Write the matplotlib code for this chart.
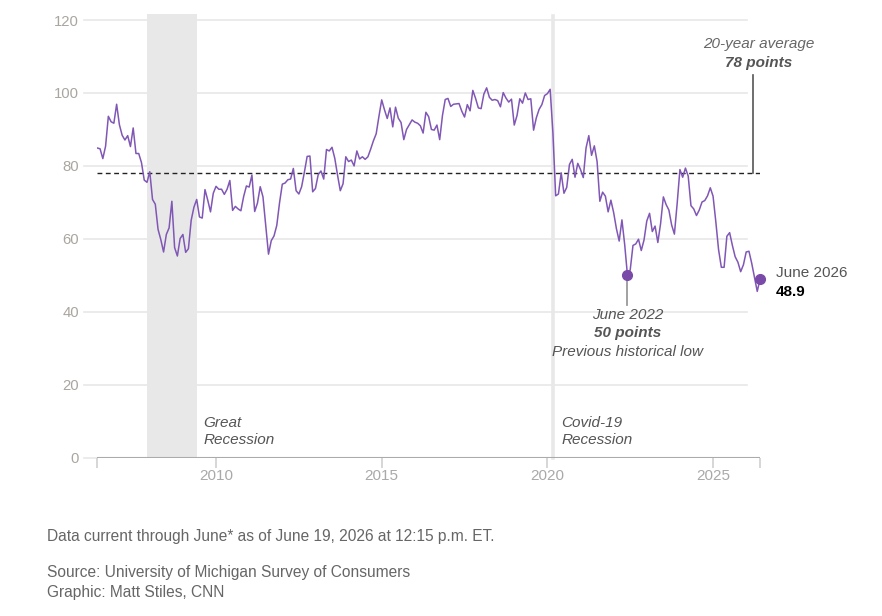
import matplotlib
matplotlib.use('Agg')
import matplotlib.pyplot as plt
import matplotlib.transforms as mtransforms
import numpy as np

plt.rcParams['font.family'] = ['Liberation Sans', 'DejaVu Sans']

# University of Michigan consumer sentiment, monthly, June 2006 - June 2026
start_year, start_month = 2006, 6
sentiment = [
    84.9, 84.7, 82.0, 85.4, 93.6, 92.1, 91.7,
    96.9, 91.3, 88.4, 87.1, 88.3, 85.3, 90.4, 83.4, 83.4, 80.9, 76.1, 75.5,
    78.4, 70.8, 69.5, 62.6, 59.8, 56.4, 61.2, 63.0, 70.3, 57.6, 55.3, 60.1,
    61.2, 56.3, 57.3, 65.1, 68.7, 70.8, 66.0, 65.7, 73.5, 70.6, 67.4, 72.5,
    74.4, 73.6, 73.6, 72.2, 73.6, 76.0, 67.8, 68.9, 68.2, 67.7, 71.6, 74.5,
    74.2, 77.5, 67.5, 69.8, 74.3, 71.5, 63.7, 55.8, 59.5, 60.8, 63.7, 69.9,
    75.0, 75.3, 76.2, 76.4, 79.3, 73.2, 72.3, 74.3, 78.3, 82.6, 82.7, 72.9,
    73.8, 77.6, 78.6, 76.4, 84.5, 84.1, 85.1, 82.1, 77.5, 73.2, 75.1, 82.5,
    81.2, 81.6, 80.0, 84.1, 81.9, 82.5, 81.8, 82.5, 84.6, 86.9, 88.8, 93.6,
    98.1, 95.4, 93.0, 95.9, 90.7, 96.1, 93.1, 91.9, 87.2, 90.0, 91.3, 92.6,
    92.0, 91.7, 91.0, 89.0, 94.7, 93.5, 90.0, 89.8, 91.2, 87.2, 93.8, 98.2,
    98.5, 96.3, 96.9, 97.0, 97.1, 95.0, 93.4, 96.8, 95.1, 100.7, 98.5, 95.9,
    95.7, 99.7, 101.4, 98.8, 98.0, 98.2, 97.9, 96.2, 100.1, 98.6, 97.5, 98.3,
    91.2, 93.8, 98.4, 97.2, 100.0, 98.2, 98.4, 89.8, 93.2, 95.5, 96.8, 99.3,
    99.8, 101.0, 89.1, 71.8, 72.3, 78.1, 72.5, 74.1, 80.4, 81.8, 76.9, 80.7,
    79.0, 76.8, 84.9, 88.3, 82.9, 85.5, 81.2, 70.3, 72.8, 71.7, 67.4, 70.6,
    67.2, 62.8, 59.4, 65.2, 58.4, 50.0, 51.5, 58.2, 58.6, 59.9, 56.8, 59.7,
    64.9, 67.0, 62.0, 63.5, 59.0, 64.2, 71.5, 69.4, 67.9, 63.8, 61.3, 69.7,
    79.0, 76.9, 79.4, 77.2, 69.1, 68.2, 66.4, 67.9, 70.1, 70.5, 71.8, 74.0,
    71.7, 64.7, 57.0, 52.2, 52.2, 60.7, 61.7, 58.2, 55.1, 53.6, 51.0, 52.9,
    56.4, 56.6, 53.3, 49.5, 45.6, 48.9,
]
average_20yr = 78
low_date = (2022, 6)
low_value = 50.0
great_recession = (2007 + 11 / 12, 2009 + 5 / 12)
covid_recession = 2020 + 2.2 / 12
year_ticks = [2010, 2015, 2020, 2025]
y_ticks = [0, 20, 40, 60, 80, 100, 120]

months = np.arange(len(sentiment))
dates = start_year + (start_month - 1) / 12 + months / 12
values = np.array(sentiment)
x_min, x_max = dates[0], dates[-1]

LINE = '#8057b5'
DOT = '#7a4aa9'
GRID = '#e8e8e8'
AXIS = '#ababab'

fig = plt.figure(figsize=(8.82, 6.16), dpi=100)
ax = fig.add_axes([97.3 / 882, 1 - 457.7 / 616, (760 - 97.3) / 882, (457.7 - 20) / 616])
ax.set_xlim(x_min, x_max)
ax.set_ylim(0, 120)
for s in ax.spines.values():
    s.set_visible(False)

# gridlines reach a bit past the plot on the left
trans = mtransforms.blended_transform_factory(ax.transAxes, ax.transData)
for yv in y_ticks:
    ax.plot([-0.02, 0.98 if yv > 0 else 0], [yv, yv], color=GRID, lw=1.2,
            transform=trans, clip_on=False, zorder=0)

# recession shading
ax.axvspan(*great_recession, ymin=0, ymax=1.014, color='#e8e8e8', lw=0,
           clip_on=False, zorder=0.5)
ax.axvline(covid_recession, ymin=0, ymax=1.01, color='#e8e8e8', lw=2.6,
           clip_on=False, zorder=0.5)

# x axis line and ticks
ax.axhline(0, color=AXIS, lw=1.5, zorder=2)
ax.set_xticks(year_ticks + [x_min, x_max])
ax.set_xticklabels([str(y) for y in year_ticks] + ['', ''])
ax.tick_params(axis='x', length=7, width=1.2, color='#cfcfcf', labelcolor='#a9a9a9',
               labelsize=11, pad=1)
ax.set_yticks(y_ticks)
ax.set_yticklabels([str(v) for v in y_ticks])
ax.tick_params(axis='y', length=0, labelcolor='#aaa59f', labelsize=10.7, pad=13)

# average line
ax.plot([x_min, x_max], [average_20yr, average_20yr], color='#222222', lw=1.0,
        dashes=(3.5, 2.5), zorder=3)
ax.plot([2026.2, 2026.2], [average_20yr, 104.9], color='#555555', lw=1.2, zorder=3,
        clip_on=False)
ax.text(2026.39, 113.5, '20-year average', ha='center', va='center', fontsize=11,
        style='italic', color='#666666')
ax.text(2026.39, 108.3, '78 points', ha='center', va='center', fontsize=11,
        style='italic', weight='bold', color='#555555')

# sentiment line
ax.plot(dates, values, color=LINE, lw=1.1, zorder=4)

# June 2022 low
low_x = low_date[0] + (low_date[1] - 1) / 12
ax.plot([low_x, low_x], [low_value, 41.9], color='#9a9a9a', lw=1.3, zorder=3)
ax.plot(low_x, low_value, 'o', color=DOT, ms=7, zorder=5)
ax.text(low_x, 39.1, 'June 2022', ha='center', va='center', fontsize=11,
        style='italic', color='#555555')
ax.text(low_x, 34.1, '50 points', ha='center', va='center', fontsize=11,
        style='italic', weight='bold', color='#555555')
ax.text(low_x, 29.1, 'Previous historical low', ha='center', va='center', fontsize=11,
        style='italic', color='#555555')

# latest value
ax.plot(dates[-1], values[-1], 'o', color=DOT, ms=7, zorder=5, clip_on=False)
ax.text(2026.89, 50.6, 'June 2026', ha='left', va='center', fontsize=11, color='#555555')
ax.text(2026.89, 45.4, f'{values[-1]:.1f}', ha='left', va='center', fontsize=11,
        weight='bold', color='black')

# recession labels
ax.text(2009.61, 9.5, 'Great', ha='left', va='center', fontsize=11, style='italic', color='#555555')
ax.text(2009.61, 4.85, 'Recession', ha='left', va='center', fontsize=11, style='italic', color='#555555')
ax.text(2020.43, 9.5, 'Covid-19', ha='left', va='center', fontsize=11, style='italic', color='#555555')
ax.text(2020.43, 4.85, 'Recession', ha='left', va='center', fontsize=11, style='italic', color='#555555')

# footer
fig.text(47 / 882, 1 - 537 / 616, 'Data current through June* as of June 19, 2026 at 12:15 p.m. ET.',
         ha='left', va='center', fontsize=11.2, color='#666666')
fig.text(47 / 882, 1 - 572 / 616, 'Source: University of Michigan Survey of Consumers',
         ha='left', va='center', fontsize=11.2, color='#666666')
fig.text(47 / 882, 1 - 592 / 616, 'Graphic: Matt Stiles, CNN',
         ha='left', va='center', fontsize=11.2, color='#666666')

fig.savefig('out.png', dpi=100, facecolor='white')
